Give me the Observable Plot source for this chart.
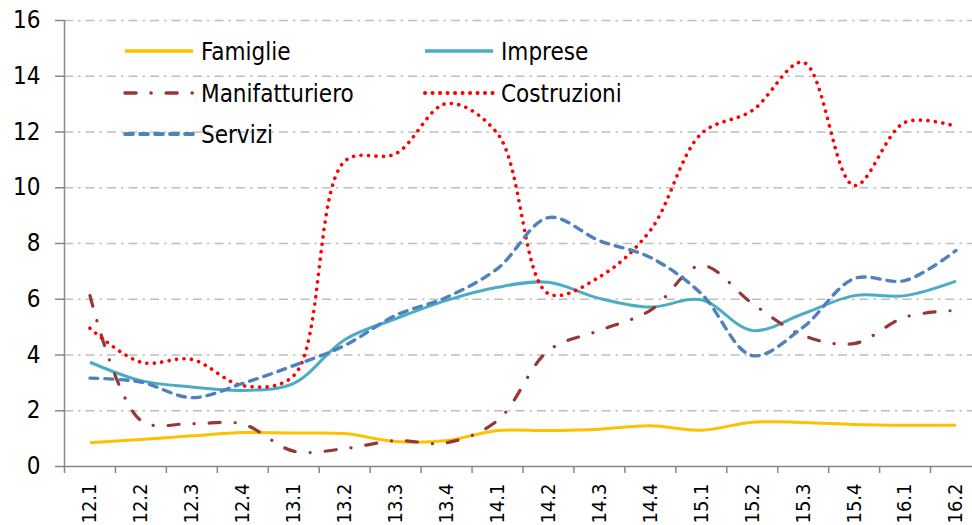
<!DOCTYPE html>
<html>
<head>
<meta charset="utf-8">
<script src="https://cdn.jsdelivr.net/npm/d3@7"></script>
<script src="https://cdn.jsdelivr.net/npm/@observablehq/plot@0.6"></script>
<style>
  html, body { margin: 0; padding: 0; background: #fff; }
  #wrap { position: relative; width: 972px; height: 525px; overflow: hidden; }
  #legend { position: absolute; left: 0; top: 0; }
</style>
</head>
<body>
<div id="wrap"></div>
<script>
const categories = ["12.1","12.2","12.3","12.4","13.1","13.2","13.3","13.4","14.1","14.2","14.3","14.4","15.1","15.2","15.3","15.4","16.1","16.2"];
const famiglie       = [0.85, 0.97, 1.10, 1.22, 1.20, 1.18, 0.90, 0.93, 1.29, 1.29, 1.34, 1.46, 1.30, 1.59, 1.58, 1.51, 1.48, 1.48];
const imprese        = [3.74, 3.08, 2.85, 2.73, 2.98, 4.55, 5.30, 5.96, 6.43, 6.61, 6.03, 5.72, 5.98, 4.88, 5.48, 6.13, 6.13, 6.65];
const manifatturiero = [6.13, 1.65, 1.54, 1.52, 0.55, 0.64, 0.93, 0.85, 1.65, 4.16, 4.88, 5.60, 7.21, 5.85, 4.70, 4.41, 5.36, 5.60];
const costruzioni    = [4.96, 3.74, 3.84, 2.90, 3.26, 10.95, 11.22, 13.02, 11.94, 6.20, 6.80, 8.47, 11.94, 12.77, 14.50, 10.08, 12.35, 12.20];
const servizi        = [3.17, 3.03, 2.47, 2.98, 3.62, 4.34, 5.42, 6.07, 7.10, 8.93, 8.10, 7.50, 6.20, 3.98, 5.00, 6.74, 6.67, 7.75];
const yTicks = [0, 2, 4, 6, 8, 10, 12, 14, 16];

const seriesDefs = [
  {name: "Famiglie",       values: famiglie,       color: "#FFC000", dash: null,             width: 3,   cap: "butt"},
  {name: "Imprese",        values: imprese,        color: "#4BACC6", dash: null,             width: 3,   cap: "butt"},
  {name: "Manifatturiero", values: manifatturiero, color: "#953735", dash: "11,15,0.1,15",   width: 3.2, cap: "round"},
  {name: "Costruzioni",    values: costruzioni,    color: "#FF0000", dash: "0.1,7.4",        width: 3.6, cap: "round"},
  {name: "Servizi",        values: servizi,        color: "#4F81BD", dash: "8,7",            width: 3.4, cap: "round"}
];

const FONT = "'DejaVu Sans Condensed', 'Liberation Sans', sans-serif";
const AXIS = "#888888";
const GRID = "#BFBFBF";
const idx = d3.range(categories.length);
const bounds = d3.range(categories.length + 1).map(i => i - 0.5);

const marks = [
  Plot.gridY(yTicks.filter(t => t > 0), {stroke: GRID, strokeOpacity: 1, strokeWidth: 1.5, strokeDasharray: "9,5,2.5,5"}),
  Plot.axisY({ticks: yTicks, tickSize: 9, tickPadding: 15, fontSize: 24, stroke: AXIS, strokeWidth: 1.5, color: "#000", tickFormat: d => String(d), label: null}),
  Plot.axisX({ticks: bounds, tickSize: 7, tickFormat: () => "", stroke: AXIS, strokeWidth: 1.5, label: null}),
  Plot.axisX({ticks: idx, tickSize: 0, tickPadding: 17, tickRotate: -90, fontSize: 20, tickFormat: i => categories[i], color: "#000", label: null}),
  Plot.ruleY([0], {stroke: AXIS, strokeWidth: 1.5}),
  Plot.ruleX([-0.5], {y1: 0, y2: 16, stroke: AXIS, strokeWidth: 1.5})
];
for (const s of seriesDefs) {
  marks.push(Plot.line(s.values.map((v, i) => ({i, v})), {
    x: "i", y: "v", curve: "catmull-rom",
    stroke: s.color, strokeWidth: s.width,
    strokeDasharray: s.dash || undefined,
    strokeLinecap: s.cap, strokeLinejoin: "round"
  }));
}

const chart = Plot.plot({
  width: 972, height: 525,
  marginLeft: 64, marginTop: 20, marginBottom: 59, marginRight: 0,
  style: {fontFamily: FONT, background: "#fff", overflow: "visible"},
  x: {type: "linear", domain: [-0.5, categories.length - 0.5], range: [64, 981], axis: null, label: null},
  y: {domain: [0, 16], range: [466, 20], axis: null, label: null},
  marks
});
document.getElementById("wrap").appendChild(chart);

// Legend (two columns, inside the plot area)
const legendPos = [
  {x: 125, y: 51}, {x: 425, y: 51},
  {x: 125, y: 93}, {x: 425, y: 93},
  {x: 125, y: 134}
];
const lg = d3.select("#wrap").append("svg").attr("id", "legend")
  .attr("width", 972).attr("height", 525)
  .style("font-family", FONT);
seriesDefs.forEach((s, k) => {
  const p = legendPos[k];
  const g = lg.append("g").attr("transform", `translate(${p.x},${p.y})`);
  g.append("line").attr("x1", 0).attr("x2", 68).attr("y1", 0).attr("y2", 0)
    .attr("stroke", s.color).attr("stroke-width", s.width + 0.4)
    .attr("stroke-dasharray", s.dash || null)
    .attr("stroke-linecap", s.cap);
  g.append("text").attr("x", 76).attr("y", 0).attr("dy", "0.36em")
    .attr("font-size", 24).attr("fill", "#000").text(s.name);
});
</script>
</body>
</html>
